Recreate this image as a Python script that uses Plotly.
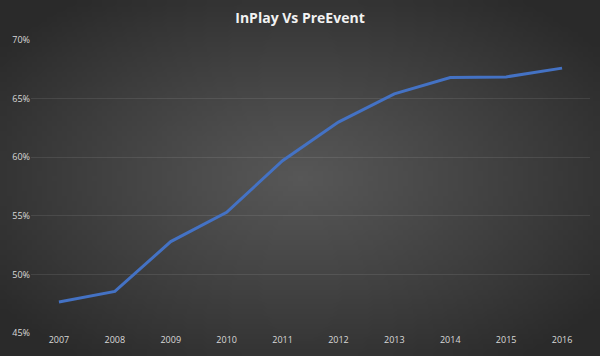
import plotly.graph_objects as go
import zlib, struct, base64

years = ["2007", "2008", "2009", "2010", "2011", "2012", "2013", "2014", "2015", "2016"]
share = [47.65, 48.55, 52.8, 55.3, 59.7, 63.0, 65.4, 66.8, 66.85, 67.6]
y_ticks = [45, 50, 55, 60, 65, 70]
y_labels = [f"{v}%" for v in y_ticks]

# radial gradient background as PNG data URI
W, H = 120, 72
rows = []
for j in range(H):
    row = bytearray([0])
    for i in range(W):
        dx = (i + 0.5 - W / 2) / (W / 2)
        dy = (j + 0.5 - H / 2) / (H / 2)
        d = min(1.0, (dx * dx + dy * dy) ** 0.5 / 1.25)
        c = int(round(0x57 - (0x57 - 0x2a) * d ** 1.1))
        row += bytes([c, c, c])
    rows.append(bytes(row))
raw = b"".join(rows)
def chunk(t, data):
    return struct.pack(">I", len(data)) + t + data + struct.pack(">I", zlib.crc32(t + data) & 0xffffffff)
png = b"\x89PNG\r\n\x1a\n" + chunk(b"IHDR", struct.pack(">IIBBBBB", W, H, 8, 2, 0, 0, 0)) + \
      chunk(b"IDAT", zlib.compress(raw, 9)) + chunk(b"IEND", b"")
uri = "data:image/png;base64," + base64.b64encode(png).decode()

fig = go.Figure()
fig.add_trace(go.Scatter(
    x=years, y=share, mode="lines",
    line=dict(color="#4472C4", width=3),
    hoverinfo="skip", showlegend=False,
))

fig.update_layout(
    width=600, height=356,
    margin=dict(l=31, r=10, t=40, b=23),
    paper_bgcolor="#3a3a3a",
    plot_bgcolor="rgba(0,0,0,0)",
    images=[dict(source=uri, xref="paper", yref="paper", x=-31/559, y=1 + 40/293,
                 sizex=600/559, sizey=356/293, sizing="stretch", layer="below",
                 xanchor="left", yanchor="top")],
    title=dict(text="<b>InPlay Vs PreEvent</b>", x=0.5, xanchor="center", y=0.95, yanchor="middle",
               font=dict(family="Open Sans, sans-serif", size=14, color="#f2f2f2")),
    font=dict(family="Open Sans, sans-serif", size=9, color="#d9d9d9"),
)
fig.update_xaxes(type="category", range=[-0.5, 9.5], showgrid=False, zeroline=False,
                 showline=False, ticks="", tickfont=dict(size=9, color="#d9d9d9"))
fig.update_yaxes(range=[45, 70], tickvals=y_ticks, ticktext=y_labels, showgrid=True,
                 gridcolor="rgba(255,255,255,0.09)", gridwidth=1, zeroline=False, showline=False,
                 ticks="", tickfont=dict(size=9, color="#d9d9d9"))

fig.write_html("out.html", config={"displayModeBar": False, "staticPlot": True},
               post_script="document.body.style.margin='0';document.body.style.overflow='hidden';")
